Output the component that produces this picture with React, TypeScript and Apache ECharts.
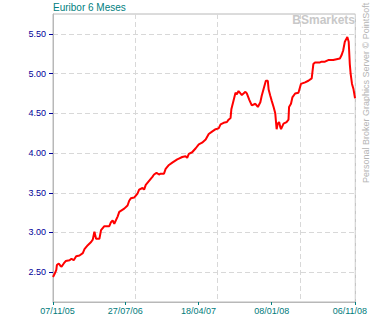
import React, { useEffect, useRef } from "react";
import * as echarts from "echarts";

const title = "Euribor 6 Meses";
const startDate = "07/11/05";
const xTickLabels = ["07/11/05", "27/07/06", "18/04/07", "08/01/08", "06/11/08"];
const yTickValues = [2.5, 3.0, 3.5, 4.0, 4.5, 5.0, 5.5];

// days elapsed since startDate
const days = [
  0, 6, 12, 14, 21, 27, 31, 39, 46, 60, 67, 75, 84, 96, 108, 114, 126, 138, 144, 150,
  156, 168, 174, 186, 204, 210, 216, 222, 234, 240, 258, 270, 276, 282, 294, 306, 312, 324, 330, 336,
  348, 360, 366, 375, 384, 390, 402, 408, 420, 432, 450, 456, 468, 480, 486, 492, 504, 517, 528, 540,
  553, 564, 576, 589, 600, 607, 618, 630, 636, 643, 646, 654, 661, 666, 672, 679, 684, 697, 702, 711,
  720, 733, 742, 751, 756, 763, 771, 778, 781, 787, 792, 799, 805, 810, 814, 819, 823, 826, 835, 846,
  853, 855, 862, 867, 877, 889, 898, 913, 925, 937, 943, 949, 967, 973, 985, 997, 1015, 1027, 1039, 1045,
  1051, 1057, 1063, 1066, 1071, 1075, 1078, 1083, 1088, 1094,
];
const values = [
  2.44, 2.48, 2.53, 2.59, 2.61, 2.58, 2.57, 2.61, 2.64, 2.65, 2.67, 2.65, 2.70, 2.71, 2.74, 2.79, 2.84, 2.88, 2.91, 3.01,
  2.92, 2.92, 3.03, 3.08, 3.08, 3.13, 3.15, 3.11, 3.20, 3.26, 3.30, 3.34, 3.40, 3.43, 3.44, 3.49, 3.54, 3.56, 3.54, 3.60,
  3.65, 3.70, 3.73, 3.75, 3.73, 3.74, 3.74, 3.80, 3.85, 3.88, 3.92, 3.93, 3.95, 3.96, 3.94, 3.99, 4.01, 4.06, 4.11, 4.13,
  4.17, 4.24, 4.27, 4.30, 4.31, 4.36, 4.38, 4.39, 4.42, 4.44, 4.55, 4.66, 4.76, 4.74, 4.78, 4.75, 4.73, 4.77, 4.75, 4.67,
  4.60, 4.62, 4.58, 4.64, 4.72, 4.81, 4.91, 4.91, 4.80, 4.72, 4.66, 4.58, 4.50, 4.30, 4.37, 4.39, 4.33, 4.30, 4.37, 4.39,
  4.42, 4.58, 4.62, 4.70, 4.75, 4.76, 4.87, 4.89, 4.91, 4.94, 5.12, 5.14, 5.14, 5.15, 5.15, 5.17, 5.17, 5.18, 5.19, 5.23,
  5.29, 5.40, 5.44, 5.46, 5.40, 5.12, 5.00, 4.87, 4.81, 4.69,
];

const DAY = 86400000;
function parseDate(s: string): number {
  const [d, m, y] = s.split("/").map(Number);
  return Date.UTC(2000 + y, m - 1, d);
}
function fmtDate(v: number): string {
  const dt = new Date(v);
  const p = (n: number) => String(n).padStart(2, "0");
  return `${p(dt.getUTCDate())}/${p(dt.getUTCMonth() + 1)}/${p(dt.getUTCFullYear() % 100)}`;
}

const FONT = "Liberation Sans";

export default function App() {
  const ref = useRef<HTMLDivElement>(null);
  useEffect(() => {
    if (!ref.current) return;
    const chart = echarts.init(ref.current, null, { renderer: "svg" });
    const t0 = parseDate(startDate);
    const xTicks = xTickLabels.map((s) => Math.round((parseDate(s) - t0) / DAY));
    const spanDays = xTicks[xTicks.length - 1];
    const data = days.map((d, i) => [d, values[i]]);
    const labelColor = "#007b7b";
    chart.setOption({
      animation: false,
      backgroundColor: "#ffffff",
      title: {
        text: title,
        left: 53,
        top: 2,
        padding: 0,
        textStyle: { fontFamily: FONT, fontSize: 10, fontWeight: "normal", color: "#008080" },
      },
      grid: {
        left: 53,
        right: 12,
        top: 14,
        bottom: 22,
        show: true,
        borderColor: "#b8b8b8",
        borderWidth: 1,
      },
      xAxis: [
        {
          type: "value",
          min: 0,
          max: spanDays,
          axisLine: { show: true, lineStyle: { color: "#b8b8b8", width: 1 } },
          axisTick: { show: true, customValues: xTicks, length: 3, lineStyle: { color: "#008080" } },
          axisLabel: {
            customValues: xTicks,
            margin: 4,
            color: labelColor,
            fontSize: 9,
            fontFamily: FONT,
            formatter: (v: number) => {
              const s = fmtDate(t0 + v * DAY);
              if (v === xTicks[0]) return `{first|${s}}`;
              if (v === xTicks[xTicks.length - 1]) return `{last|${s}}`;
              return s;
            },
            rich: {
              first: { color: labelColor, fontSize: 9, fontFamily: FONT, padding: [0, 0, 0, 9] },
              last: { color: labelColor, fontSize: 9, fontFamily: FONT, padding: [0, 11, 0, 0] },
            },
          },
          splitLine: { show: false },
        },
        {
          type: "value",
          min: 0,
          max: spanDays,
          interval: 298,
          position: "bottom",
          axisLine: { show: false },
          axisTick: { show: false },
          axisLabel: { show: false },
          splitLine: { show: true, lineStyle: { color: "#d8d8d8", type: [5, 3], width: 1 } },
        },
      ],
      yAxis: {
        type: "value",
        min: 2.125,
        max: 5.75,
        axisLine: { show: true, lineStyle: { color: "#b8b8b8" } },
        axisTick: { show: true, customValues: yTickValues, length: 4, lineStyle: { color: "#000099" } },
        axisLabel: {
          customValues: yTickValues,
          margin: 7,
          color: "#000099",
          fontSize: 9,
          fontFamily: FONT,
          formatter: (v: number) => v.toFixed(2),
        },
        splitLine: { show: true, lineStyle: { color: "#d8d8d8", type: [5, 3], width: 1 } },
      },
      graphic: [
        {
          type: "text",
          right: 15,
          top: 14,
          style: { text: "BSmarkets", fill: "#c8c8c8", font: `bold 12px "${FONT}"` },
          z: 1,
        },
        {
          type: "text",
          x: 366,
          y: 183,
          rotation: Math.PI / 2,
          style: {
            text: "Personal Broker Graphics Server © PointSoft",
            fill: "#b4b4b4",
            font: `9px "${FONT}"`,
            textAlign: "left",
            textVerticalAlign: "middle",
          },
        },
      ],
      series: [
        {
          type: "line",
          xAxisIndex: 0,
          data,
          showSymbol: false,
          symbol: "none",
          lineStyle: { color: "#ff0000", width: 2 },
          z: 5,
        },
      ],
    });
    return () => chart.dispose();
  }, []);
  return (
    <div
      ref={ref}
      style={{ position: "fixed", left: 0, top: 0, width: 370, height: 324, background: "#fff" }}
    />
  );
}
